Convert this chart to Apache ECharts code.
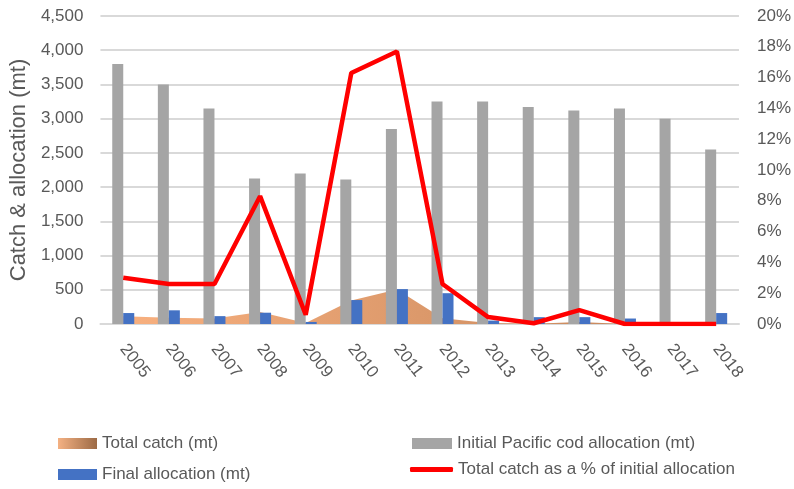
<!DOCTYPE html>
<html>
<head>
<meta charset="utf-8">
<script src="https://cdn.jsdelivr.net/npm/echarts@6/dist/echarts.min.js"></script>
<style>html,body{margin:0;padding:0;background:#fff}#c{width:794px;height:489px}</style>
</head>
<body>
<div id="c"></div>
<script>
const years = ['2005','2006','2007','2008','2009','2010','2011','2012','2013','2014','2015','2016','2017','2018'];
const totalCatch = [114, 91, 82, 176, 13, 344, 504, 85, 15, 2, 28, 0, 0, 0];
const initialAllocation = [3800, 3500, 3150, 2125, 2200, 2110, 2850, 3250, 3250, 3170, 3120, 3150, 3000, 2550];
const finalAllocation = [160, 200, 115, 165, 30, 350, 510, 450, 50, 100, 100, 80, 0, 160];
const catchPct = [0.030, 0.026, 0.026, 0.083, 0.006, 0.163, 0.177, 0.026, 0.0045, 0.0005, 0.009, 0, 0, 0];
const leftTicks = {min: 0, max: 4500, interval: 500};
const rightTicks = {min: 0, max: 0.2, interval: 0.02};

const FONT = '"Liberation Sans", sans-serif';
const TXT = '#595959';
const FS = 17;
const areaGrad = new echarts.graphic.LinearGradient(0, 0, 1, 0, [
  {offset: 0, color: '#f8b07f'}, {offset: 1, color: '#c08257'}
]);
const legGrad = new echarts.graphic.LinearGradient(0, 0, 1, 0, [
  {offset: 0, color: '#f4b183'}, {offset: 1, color: '#9c6a45'}
]);

const chart = echarts.init(document.getElementById('c'), null, {renderer: 'canvas'});
const legText = {color: TXT, fontSize: FS, fontFamily: FONT};
chart.setOption({
  animation: false,
  textStyle: {fontFamily: FONT},
  grid: {left: 99, right: 53, top: 16, bottom: 165},
  legend: [
    {left: 58, top: 435, padding: 0, itemWidth: 39, itemHeight: 11, itemGap: 6, textStyle: legText,
     data: [{name: 'Total catch (mt)', icon: 'rect', itemStyle: {color: legGrad}}]},
    {left: 58, top: 466, padding: 0, itemWidth: 39, itemHeight: 11, textStyle: legText,
     data: [{name: 'Final allocation (mt)', icon: 'rect'}]},
    {left: 412, top: 435, padding: 0, itemWidth: 40, itemHeight: 11, textStyle: legText,
     data: [{name: 'Initial Pacific cod allocation (mt)', icon: 'rect'}]},
    {left: 410, top: 461, padding: 0, itemWidth: 43, itemHeight: 5, textStyle: legText,
     data: [{name: 'Total catch as a % of initial allocation', icon: 'roundRect', itemStyle: {color: '#ff0000'}}]}
  ],
  xAxis: {
    type: 'category', data: years, boundaryGap: true,
    axisLine: {lineStyle: {color: '#d9d9d9', width: 2}},
    axisTick: {show: false},
    axisLabel: {rotate: -52, color: TXT, fontSize: FS, fontFamily: FONT, margin: 22, interval: 0}
  },
  yAxis: [
    {type: 'value', min: leftTicks.min, max: leftTicks.max, interval: leftTicks.interval,
     name: 'Catch & allocation (mt)', nameLocation: 'middle', nameGap: 61,
     nameTextStyle: {color: TXT, fontSize: 22, fontFamily: FONT},
     axisLine: {show: false}, axisTick: {show: false},
     axisLabel: {color: TXT, fontSize: FS, fontFamily: FONT, margin: 17,
       formatter: v => v.toLocaleString('en-US')},
     splitLine: {lineStyle: {color: '#d9d9d9', width: 2}}},
    {type: 'value', min: rightTicks.min, max: rightTicks.max, interval: rightTicks.interval,
     axisLine: {show: false}, axisTick: {show: false}, splitLine: {show: false},
     axisLabel: {color: TXT, fontSize: FS, fontFamily: FONT, margin: 18,
       formatter: v => Math.round(v * 100) + '%'}}
  ],
  series: [
    {name: 'Total catch (mt)', type: 'line', data: totalCatch, yAxisIndex: 0,
     symbol: 'none', lineStyle: {width: 0}, itemStyle: {color: '#f4b183'},
     areaStyle: {color: areaGrad, opacity: 1}, z: 1},
    {name: 'Initial Pacific cod allocation (mt)', type: 'bar', data: initialAllocation,
     barWidth: 11, barGap: '0%', itemStyle: {color: '#a5a5a5'}, z: 2},
    {name: 'Final allocation (mt)', type: 'bar', data: finalAllocation,
     barWidth: 11, barGap: '0%', itemStyle: {color: '#4472c4'}, z: 2},
    {name: 'Total catch as a % of initial allocation', type: 'line', data: catchPct, yAxisIndex: 1,
     symbol: 'none', lineStyle: {color: '#ff0000', width: 4.5}, itemStyle: {color: '#ff0000'}, z: 5}
  ]
});
</script>
</body>
</html>
